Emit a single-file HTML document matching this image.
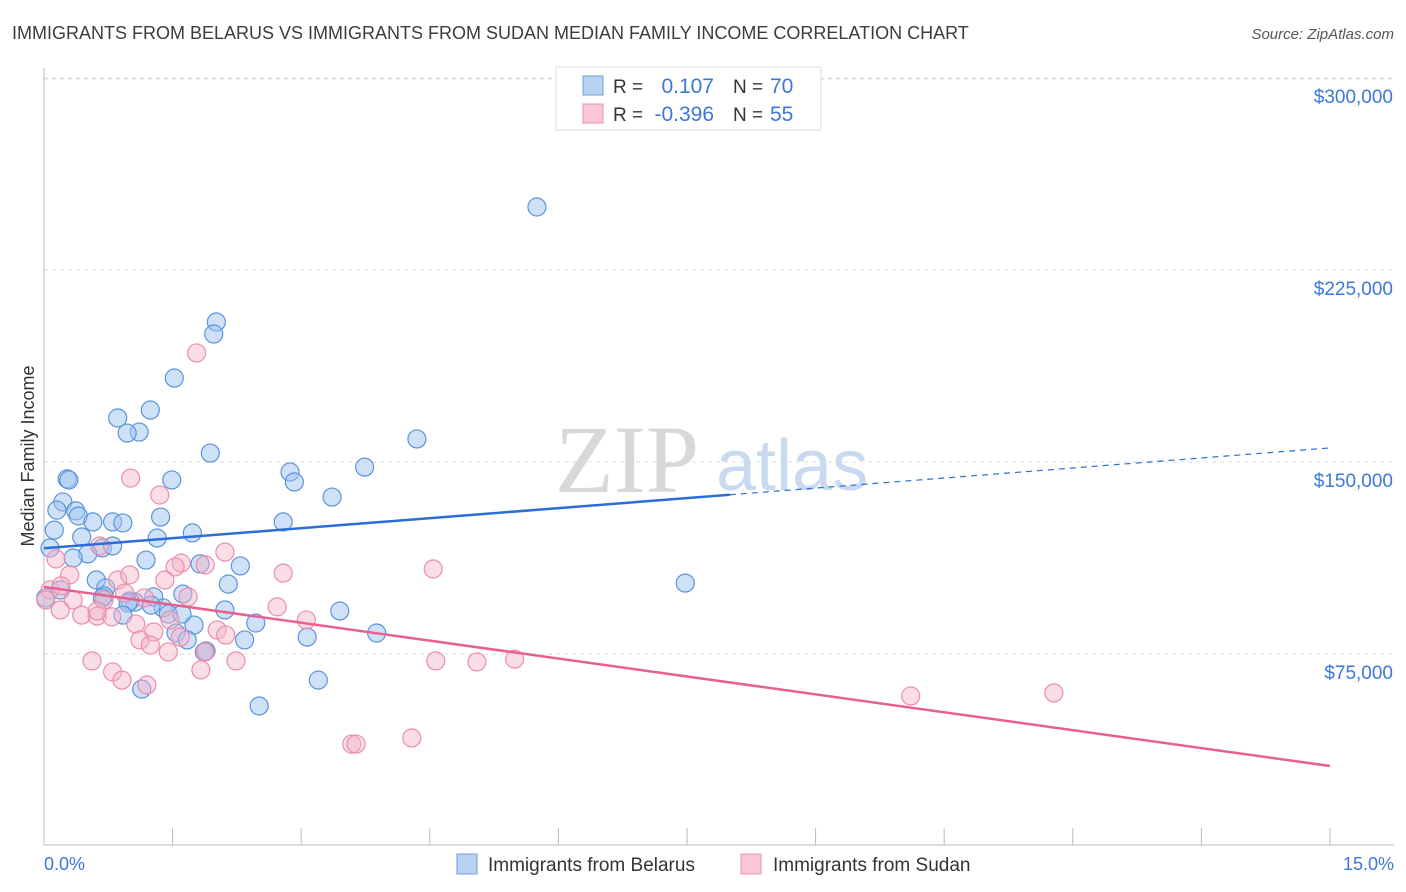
<!DOCTYPE html>
<html><head><meta charset="utf-8"><style>
body{margin:0;background:#fff;font-family:"Liberation Sans",sans-serif;}
svg{display:block}
</style></head><body>
<svg id="c" width="1406" height="892"></svg>
<script>
const blueX=[5.75,2.01,1.98,1.52,1.24,0.86,1.11,0.97,1.94,4.35,2.87,2.92,3.74,0.27,0.29,1.49,3.36,0.22,0.15,0.37,0.40,1.36,0.57,0.80,0.92,2.79,0.12,1.73,1.32,0.44,0.07,0.68,0.80,0.51,0.34,1.19,2.29,1.82,7.48,0.61,0.72,2.15,0.70,1.28,1.62,1.06,1.00,0.98,1.39,2.11,3.45,1.45,1.61,1.25,1.75,2.47,0.92,1.54,1.67,2.34,3.07,3.88,1.89,1.87,3.20,1.14,2.51,0.68,0.02,0.19];
const blueY=[249600,204700,200000,182800,170300,167200,161700,161300,153500,159000,146100,142200,148000,143400,143000,143000,136300,134400,131200,130900,128900,128500,126600,126600,126200,126600,123400,122300,120300,120700,116400,116400,117200,114100,112500,111700,109400,110200,102700,103900,100800,102300,97700,97300,98400,95300,95700,94900,93000,92200,91800,90600,90600,94100,86300,87100,90200,83200,80500,80500,81600,83200,76200,75800,64800,61300,54700,96900,96900,100000];
const pinkX=[1.78,1.01,1.35,0.65,2.11,0.14,1.60,1.53,1.88,4.54,2.79,0.30,1.41,0.86,0.07,0.20,0.02,0.34,0.70,1.68,1.17,2.72,3.06,0.44,0.62,0.79,1.47,1.07,1.28,2.02,2.12,1.12,1.45,1.88,0.56,2.24,4.57,5.05,5.49,0.80,1.83,0.91,1.20,10.11,11.78,3.59,3.64,4.29,0.94,0.62,0.19,1.24,1.59,1.00];
const pinkY=[192600,143700,137100,117200,114800,112100,110500,109000,109800,108200,106600,105900,103900,103900,100000,101600,96100,96100,96100,97300,96900,93400,88300,90200,89800,89500,88300,86700,83600,84400,82400,80500,75800,75800,72300,72300,72300,71900,73000,68000,68800,64800,62900,58600,59800,39800,39800,42200,98800,91800,92200,78500,81600,105900];
const blueTrend=[116300,155500]; // at x=0 and x=15
const blueSolidEnd=8.0;
const pinkTrend=[101200,31250];
const yTicks=[75000,150000,225000,300000];
const yTickLabels=["$75,000","$150,000","$225,000","$300,000"];
const xTicks=[0,1.5,3,4.5,6,7.5,9,10.5,12,13.5,15];

const X=v=>44+v*85.73;
const Y=v=>654-(v-75000)/75000*192;
const svg=document.getElementById('c');
const NS='http://www.w3.org/2000/svg';
function mk(t,a,txt){const e=document.createElementNS(NS,t);for(const k in a)e.setAttribute(k,a[k]);if(txt!==undefined)e.textContent=txt;svg.appendChild(e);return e;}

let e;
e=mk('text',{x:12,y:39,'font-size':18,fill:'#3c3c3c'},'IMMIGRANTS FROM BELARUS VS IMMIGRANTS FROM SUDAN MEDIAN FAMILY INCOME CORRELATION CHART');


e=mk('text',{x:1394,y:39,'font-size':15,fill:'#555','font-style':'italic','text-anchor':'end'},'Source: ZipAtlas.com');



// gridlines
e=mk('line',{x1:44,x2:1394,y1:79,y2:79,stroke:'#ddd','stroke-dasharray':'4,4'});


yTicks.forEach((t,i)=>{
 const g=mk('line',{x1:44,x2:1394,y1:Y(t),y2:Y(t),stroke:'#ddd','stroke-dasharray':'4,4'});
 
 
 const l=mk('text',{x:1393,y:Y(t)+25,'font-size':19,fill:'#3b78d8','text-anchor':'end'},yTickLabels[i]);
 
 
});
// axes
e=mk('line',{x1:44,x2:44,y1:68,y2:845,stroke:'#bbb'});


e=mk('line',{x1:44,x2:1394,y1:845,y2:845,stroke:'#bbb'});


xTicks.forEach(t=>{
 const k=mk('line',{x1:X(t),x2:X(t),y1:828,y2:845,stroke:'#bbb'});
 
 
});
e=mk('text',{x:44,y:870,'font-size':18,fill:'#3b78d8'},'0.0%');


e=mk('text',{x:1394,y:870,'font-size':18,fill:'#3b78d8','text-anchor':'end'},'15.0%');


e=mk('text',{x:34,y:456,'font-size':18,fill:'#333','text-anchor':'middle',transform:'rotate(-90 34 456)'},'Median Family Income');


// watermark
e=mk('text',{x:555,y:492,'font-size':96,fill:'#d8d8d8','font-family':'Liberation Serif,serif'},'ZIP');


e=mk('text',{x:716,y:490,'font-size':72,fill:'#c9daf0'},'atlas');



// points
blueX.forEach((v,i)=>{
 const c=mk('circle',{cx:X(v),cy:Y(blueY[i]),r:9,fill:'rgba(160,195,240,0.5)',stroke:'#5b93db','stroke-width':1.2});
 
 
});
pinkX.forEach((v,i)=>{
 const c=mk('circle',{cx:X(v),cy:Y(pinkY[i]),r:9,fill:'rgba(245,180,200,0.45)',stroke:'#ea8eab','stroke-width':1.2});
 
 
});
// trends
const bAt=x=>blueTrend[0]+(blueTrend[1]-blueTrend[0])*x/15;
e=mk('line',{x1:X(0),y1:Y(bAt(0)),x2:X(blueSolidEnd),y2:Y(bAt(blueSolidEnd)),stroke:'#2a6fd6','stroke-width':2.5});


e=mk('line',{x1:X(blueSolidEnd),y1:Y(bAt(blueSolidEnd)),x2:X(15),y2:Y(bAt(15)),stroke:'#2a6fd6','stroke-width':1.2,'stroke-dasharray':'6,5'});


e=mk('line',{x1:X(0),y1:Y(pinkTrend[0]),x2:X(15),y2:Y(pinkTrend[1]),stroke:'#e8608e','stroke-width':2.5});



// top legend
e=mk('rect',{x:556,y:67,width:265,height:63,fill:'#fff',stroke:'#ddd'});


e=mk('rect',{x:583,y:76,width:20,height:19,fill:'#b8d2f4',stroke:'#6d9de0'});


e=mk('rect',{x:583,y:104,width:20,height:19,fill:'#f8c6d5',stroke:'#ec93b0'});


[[93,'0.107','70'],[121,'-0.396','55']].forEach((r,i)=>{
 let t=mk('text',{x:613,y:r[0],'font-size':19,fill:'#333'},'R =');
 
 
 t=mk('text',{x:714,y:r[0],'font-size':21,fill:'#3b78d8','text-anchor':'end'},r[1]);
 
 
 t=mk('text',{x:733,y:r[0],'font-size':19,fill:'#333'},'N =');
 
 
 t=mk('text',{x:770,y:r[0],'font-size':21,fill:'#3b78d8'},r[2]);
 
 
});
// bottom legend
e=mk('rect',{x:457,y:854,width:20,height:20,fill:'#b8d2f4',stroke:'#6d9de0'});


e=mk('text',{x:488,y:871,'font-size':19,fill:'#333'},'Immigrants from Belarus');


e=mk('rect',{x:741,y:854,width:20,height:20,fill:'#f8c6d5',stroke:'#ec93b0'});


e=mk('text',{x:773,y:871,'font-size':19,fill:'#333'},'Immigrants from Sudan');


</script>
</body></html>
